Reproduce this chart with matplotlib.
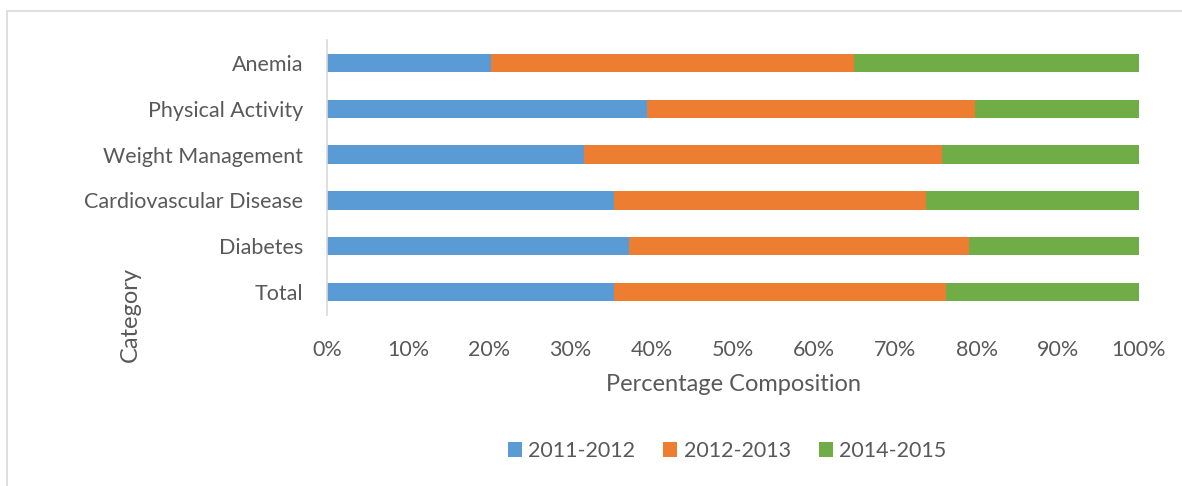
import matplotlib.pyplot as plt
from matplotlib.patches import Rectangle
from matplotlib.ticker import PercentFormatter

categories = ["Total", "Diabetes", "Cardiovascular Disease", "Weight Management",
              "Physical Activity", "Anemia"]
series_names = ["2011-2012", "2012-2013", "2014-2015"]
share_2011 = [35.3, 37.2, 35.3, 31.7, 39.4, 20.2]
share_2012 = [40.9, 41.9, 38.5, 44.0, 40.4, 44.7]
share_2014 = [23.8, 20.9, 26.2, 24.3, 20.2, 35.1]

colors = ["#5b9bd5", "#ed7d31", "#70ad47"]
text_color = "#595959"

plt.rcParams["font.family"] = ["Lato", "DejaVu Sans"]

fig = plt.figure(figsize=(11.82, 4.86), dpi=100)
ax = fig.add_axes([327 / 1182, 1 - 315 / 486, (1139 - 327) / 1182, (315 - 40) / 486])

# outer chart frame (left and top edges visible)
fig.patches.append(Rectangle((7 / 1182, -0.1), 1.2, 1 - 11 / 486 + 0.1,
                             transform=fig.transFigure, fill=False,
                             edgecolor="#d9d9d9", linewidth=1.2))

left = [0.0] * len(categories)
for name, vals, col in zip(series_names, [share_2011, share_2012, share_2014], colors):
    ax.barh(categories, vals, left=left, height=0.4, color=col, label=name)
    left = [a + b for a, b in zip(left, vals)]

ax.set_xlim(0, 100)
ax.set_ylim(-0.5, len(categories) - 0.5)
ax.xaxis.set_major_formatter(PercentFormatter(decimals=0))
ax.set_xticks(range(0, 101, 10))

for side in ["top", "right", "bottom"]:
    ax.spines[side].set_visible(False)
ax.spines["left"].set_color("#d9d9d9")
ax.spines["left"].set_linewidth(1.2)
ax.tick_params(length=0, labelsize=15.5, colors=text_color)
ax.tick_params(axis="x", pad=18)
ax.tick_params(axis="y", pad=17)

ax.set_xlabel("Percentage Composition", fontsize=17, color=text_color, labelpad=10)
ax.set_ylabel("Category", fontsize=17, color=text_color)
ax.yaxis.set_label_coords(-0.229, 0.0)

ax.legend(loc="center", bbox_to_anchor=(0.5 + (727 - 733) / 812, -0.495), ncol=3,
          frameon=False, fontsize=15.5, labelcolor=text_color, handlelength=0.65,
          handleheight=0.65, handletextpad=0.3, columnspacing=1.3)

fig.savefig("out.png", dpi=100)
